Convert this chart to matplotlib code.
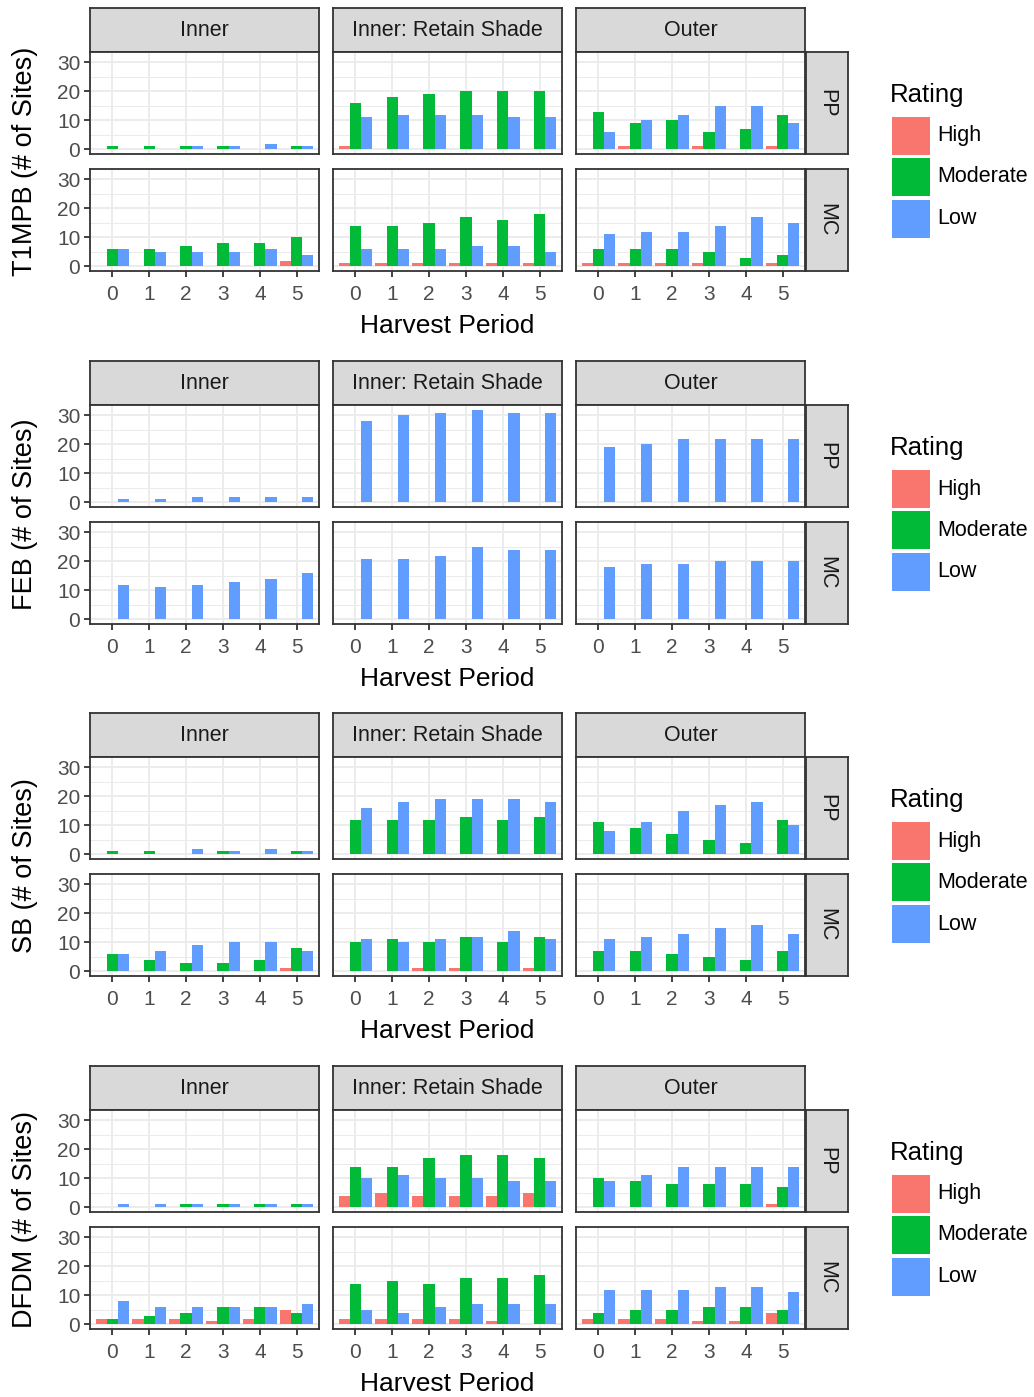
import matplotlib
matplotlib.use("Agg")
import matplotlib.pyplot as plt
from matplotlib.patches import Rectangle
from matplotlib.ticker import FixedLocator
import numpy as np

plt.rcParams['font.family'] = ['Liberation Sans', 'DejaVu Sans']

# ---------------- data ----------------
PERIODS = [0, 1, 2, 3, 4, 5]
COLUMNS = ["Inner", "Inner: Retain Shade", "Outer"]
ROWS = ["PP", "MC"]
RATINGS = ["High", "Moderate", "Low"]
PESTS = ["T1MPB", "FEB", "SB", "DFDM"]
# panel order: PP-Inner, PP-Retain, PP-Outer, MC-Inner, MC-Retain, MC-Outer
T1MPB_HIGH = [[0, 0, 0, 0, 0, 0], [1, 0, 0, 0, 0, 0], [0, 1, 0, 1, 0, 1],
              [0, 0, 0, 0, 0, 2], [1, 1, 1, 1, 1, 1], [1, 1, 1, 1, 0, 1]]
T1MPB_MOD = [[1, 1, 1, 1, 0, 1], [16, 18, 19, 20, 20, 20], [13, 9, 10, 6, 7, 12],
             [6, 6, 7, 8, 8, 10], [14, 14, 15, 17, 16, 18], [6, 6, 6, 5, 3, 4]]
T1MPB_LOW = [[0, 0, 1, 1, 2, 1], [11, 12, 12, 12, 11, 11], [6, 10, 12, 15, 15, 9],
             [6, 5, 5, 5, 6, 4], [6, 6, 6, 7, 7, 5], [11, 12, 12, 14, 17, 15]]

FEB_HIGH = [[0] * 6 for _ in range(6)]
FEB_MOD = [[0] * 6 for _ in range(6)]
FEB_LOW = [[1, 1, 2, 2, 2, 2], [28, 30, 31, 32, 31, 31], [19, 20, 22, 22, 22, 22],
           [12, 11, 12, 13, 14, 16], [21, 21, 22, 25, 24, 24], [18, 19, 19, 20, 20, 20]]

SB_HIGH = [[0, 0, 0, 0, 0, 0], [0, 0, 0, 0, 0, 0], [0, 0, 0, 0, 0, 0],
           [0, 0, 0, 0, 0, 1], [0, 0, 1, 1, 0, 1], [0, 0, 0, 0, 0, 0]]
SB_MOD = [[1, 1, 0, 1, 0, 1], [12, 12, 12, 13, 12, 13], [11, 9, 7, 5, 4, 12],
          [6, 4, 3, 3, 4, 8], [10, 11, 10, 12, 10, 12], [7, 7, 6, 5, 4, 7]]
SB_LOW = [[0, 0, 2, 1, 2, 1], [16, 18, 19, 19, 19, 18], [8, 11, 15, 17, 18, 10],
          [6, 7, 9, 10, 10, 7], [11, 10, 11, 12, 14, 11], [11, 12, 13, 15, 16, 13]]

DFDM_HIGH = [[0, 0, 0, 0, 0, 0], [4, 5, 4, 4, 4, 5], [0, 0, 0, 0, 0, 1],
             [2, 2, 2, 1, 2, 5], [2, 2, 2, 2, 1, 0], [2, 2, 2, 1, 1, 4]]
DFDM_MOD = [[0, 0, 1, 1, 1, 1], [14, 14, 17, 18, 18, 17], [10, 9, 8, 8, 8, 7],
            [2, 3, 4, 6, 6, 4], [14, 15, 14, 16, 16, 17], [4, 5, 5, 6, 6, 5]]
DFDM_LOW = [[1, 1, 1, 1, 1, 1], [10, 11, 10, 10, 9, 9], [9, 11, 14, 14, 14, 14],
            [8, 6, 6, 6, 6, 7], [5, 4, 6, 7, 7, 7], [12, 12, 12, 13, 13, 11]]

PEST_DATA = {
    "T1MPB": [T1MPB_HIGH, T1MPB_MOD, T1MPB_LOW],
    "FEB": [FEB_HIGH, FEB_MOD, FEB_LOW],
    "SB": [SB_HIGH, SB_MOD, SB_LOW],
    "DFDM": [DFDM_HIGH, DFDM_MOD, DFDM_LOW],
}
COLORS = ["#F8766D", "#00BA38", "#619CFF"]

# ---------------- layout (pixels) ----------------
W, H = 1034, 1397
fig = plt.figure(figsize=(W / 100, H / 100), dpi=100)

BLOCK_TOPS = [8, 361, 713, 1066]
COL_X = [90, 333, 576]
PANEL_W = 229
PANEL_H = 102
STRIP_H = 44
ROW_STEP = 117
BORDER = "#333333"
GRID = "#EBEBEB"


def add_ax(x0, y0, w, h):
    return fig.add_axes([x0 / W, 1 - (y0 + h) / H, w / W, h / H])


def strip(ax, text, rot=0):
    ax.set_facecolor("#D9D9D9")
    ax.set_xticks([])
    ax.set_yticks([])
    for s in ax.spines.values():
        s.set_color(BORDER)
        s.set_linewidth(1.3)
    ax.text(0.5, 0.5, text, transform=ax.transAxes, ha="center", va="center",
            fontsize=15.5, color="#1A1A1A", rotation=rot)


for b, pest in enumerate(PESTS):
    T = BLOCK_TOPS[b]
    series = PEST_DATA[pest]
    for c, cname in enumerate(COLUMNS):
        sax = add_ax(COL_X[c], T, PANEL_W, STRIP_H)
        strip(sax, cname)
    for r, rname in enumerate(ROWS):
        py = T + STRIP_H + r * ROW_STEP
        rax = add_ax(806, py, 42, PANEL_H)
        strip(rax, rname, rot=-90)
        for c in range(3):
            idx = r * 3 + c
            ax = add_ax(COL_X[c], py, PANEL_W, PANEL_H)
            ax.set_axisbelow(True)
            x = np.arange(len(PERIODS))
            for k in range(3):
                ax.bar(x + (k - 1) * 0.3, series[k][idx], width=0.3,
                       color=COLORS[k], linewidth=0)
            ax.set_xlim(-0.6, 5.6)
            ax.set_ylim(-1.6, 33.6)
            ax.set_xticks(x)
            ax.set_xticklabels([str(p) for p in PERIODS])
            ax.set_yticks([0, 10, 20, 30])
            ax.yaxis.set_minor_locator(FixedLocator([5, 15, 25]))
            ax.grid(which="major", color=GRID, linewidth=1.3)
            ax.grid(which="minor", axis="y", color=GRID, linewidth=0.7)
            ax.tick_params(which="minor", length=0)
            ax.tick_params(which="major", length=4, width=1.3, color=BORDER,
                           labelcolor="#4D4D4D", labelsize=15)
            ax.tick_params(axis="y", pad=3)
            ax.tick_params(axis="x", pad=6)
            for s in ax.spines.values():
                s.set_color(BORDER)
                s.set_linewidth(1.3)
            if c != 0:
                ax.tick_params(left=False, labelleft=False)
            if r == 0:
                ax.tick_params(bottom=False, labelbottom=False)
    # axis titles
    fig.text(447.5 / W, 1 - (T + 318) / H, "Harvest Period", ha="center",
             va="center", fontsize=19, color="black")
    fig.text(25 / W, 1 - (T + 153) / H, pest + " (# of Sites)", ha="center",
             va="center", rotation=90, fontsize=19.5, color="black")
    # legend
    fig.text(890 / W, 1 - (T + 87) / H, "Rating", ha="left", va="center",
             fontsize=18.5, color="black")
    key_tops = [T + 109, T + 150, T + 192]
    for k, lab in enumerate(RATINGS):
        kt = key_tops[k]
        fig.add_artist(Rectangle((892 / W, 1 - (kt + 38) / H), 38 / W, 38 / H,
                                 transform=fig.transFigure, facecolor=COLORS[k],
                                 edgecolor="none"))
        fig.text(937 / W, 1 - (kt + 19) / H, lab, ha="left", va="center",
                 fontsize=15.5, color="black")

fig.savefig("out.png", dpi=100, facecolor="white")
